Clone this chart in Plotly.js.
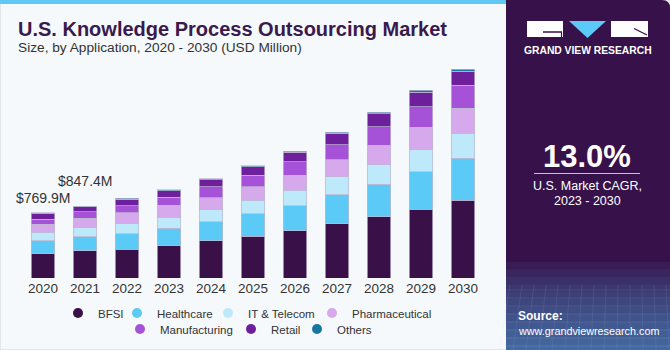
<!DOCTYPE html>
<html>
<head>
<meta charset="utf-8">
<script src="https://cdn.plot.ly/plotly-3.0.1.min.js"></script>
<style>
  html, body { margin: 0; padding: 0; background: #ffffff; }
  #chart { width: 670px; height: 350px; }
</style>
</head>
<body>
<div id="chart"></div>
<script>
// ---- Data (USD Million) ----
const years = ['2020','2021','2022','2023','2024','2025','2026','2027','2028','2029','2030'];
const bfsi          = [285, 322, 337, 378, 437, 491, 558, 641, 723, 814, 920];
const healthcare    = [152, 164, 185, 208, 228, 268, 295, 342, 381, 440, 491];
const itTelecom     = [102, 107, 118, 130, 142, 157, 181, 209, 232, 260, 300];
const pharmaceutical= [94, 111, 130, 142, 138, 158, 177, 204, 228, 263, 290];
const manufacturing = [62, 75, 83, 94, 133, 137, 162, 177, 221, 244, 271];
const retail        = [66.9, 60.4, 79, 79, 83, 99, 110, 133, 153, 173, 170];
const others        = [8, 8, 8, 12, 12, 12, 12, 12, 20, 24, 19];
const seriesNames   = ['BFSI','Healthcare','IT & Telecom','Pharmaceutical','Manufacturing','Retail','Others'];
const labeledYears  = ['2020','2021'];

// ---- Styles ----
const colors = ['#3a1049','#5ccaf6','#bee9fa','#d6a9ed','#a552d8','#6e1f9c','#16789f'];
const legendWidths = [14, 46, 59, 80, 66, 21, 35];   // per-entry legend widths (px)
const labelShifts = [5, 15];                           // vertical offsets of total labels (px)
const W = 670, H = 350, ML = 22, MR = 186, MT = 60, MB = 72;
const PW = W - ML - MR, PH = H - MT - MB;
const X = px => (px - ML) / PW;
const Y = py => (H - MB - py) / PH;
const FONT = 'Liberation Sans, Arial, sans-serif';

const seriesData = [bfsi, healthcare, itTelecom, pharmaceutical, manufacturing, retail, others];
const traces = [];
seriesData.forEach((vals, i) => {
  traces.push({
    type: 'bar', x: years, y: vals, name: seriesNames[i],
    marker: { color: colors[i], line: { color: 'rgba(190,185,210,0.9)', width: 0.8 } },
    showlegend: false, hoverinfo: 'x+y+name'
  });
});
// legend entries (circle markers) on a hidden overlay axis pair
seriesData.forEach((vals, i) => {
  traces.push({
    type: 'scatter', mode: 'markers', x: [null], y: [null], name: seriesNames[i],
    xaxis: 'x2', yaxis: 'y2', legendwidth: legendWidths[i],
    marker: { color: colors[i], size: 10, symbol: 'circle' },
    legend: i < 4 ? 'legend' : 'legend2', showlegend: true, hoverinfo: 'skip'
  });
});

const totals = years.map((_, j) => seriesData.reduce((s, arr) => s + arr[j], 0));
const annotations = [];
labeledYears.forEach((yr, k) => {
  const j = years.indexOf(yr);
  annotations.push({
    x: j, y: totals[j], xref: 'x', yref: 'y', text: '$' + totals[j].toFixed(1) + 'M',
    showarrow: false, yanchor: 'bottom', yshift: labelShifts[k],
    font: { family: FONT, size: 14, color: '#333333' }
  });
});
// Title / subtitle
annotations.push({ xref: 'paper', yref: 'paper', x: X(16), y: Y(29), xanchor: 'left', yanchor: 'middle',
  text: '<b>U.S. Knowledge Process Outsourcing Market</b>', showarrow: false,
  font: { family: FONT, size: 20, color: '#3a1a4c' } });
annotations.push({ xref: 'paper', yref: 'paper', x: X(16), y: Y(47), xanchor: 'left', yanchor: 'middle',
  text: 'Size, by Application, 2020 - 2030 (USD Million)', showarrow: false,
  font: { family: FONT, size: 13.7, color: '#333333' } });
// Right panel texts
annotations.push({ xref: 'paper', yref: 'paper', x: X(587.5), y: Y(50), xanchor: 'center', yanchor: 'middle',
  text: '<b>GRAND VIEW RESEARCH</b>', showarrow: false,
  font: { family: FONT, size: 10.3, color: '#ffffff' } });
annotations.push({ xref: 'paper', yref: 'paper', x: X(587), y: Y(156), xanchor: 'center', yanchor: 'middle',
  text: '<b>13.0%</b>', showarrow: false,
  font: { family: FONT, size: 31, color: '#ffffff' } });
annotations.push({ xref: 'paper', yref: 'paper', x: X(587), y: Y(186), xanchor: 'center', yanchor: 'middle',
  text: 'U.S. Market CAGR,', showarrow: false,
  font: { family: FONT, size: 12.5, color: '#ffffff' } });
annotations.push({ xref: 'paper', yref: 'paper', x: X(587), y: Y(201), xanchor: 'center', yanchor: 'middle',
  text: '2023 - 2030', showarrow: false,
  font: { family: FONT, size: 12.5, color: '#ffffff' } });
annotations.push({ xref: 'paper', yref: 'paper', x: X(516), y: Y(316), xanchor: 'left', yanchor: 'middle',
  text: '<b>Source:</b>', showarrow: false,
  font: { family: FONT, size: 12, color: '#ffffff' } });
annotations.push({ xref: 'paper', yref: 'paper', x: X(516), y: Y(331), xanchor: 'left', yanchor: 'middle',
  text: 'www.grandviewresearch.com', showarrow: false,
  font: { family: FONT, size: 10.8, color: '#ffffff' } });

const shapes = [];
const rectPx = (x0, y0, x1, y1, fill, extra) => Object.assign({
  type: 'rect', xref: 'paper', yref: 'paper', x0: X(x0), x1: X(x1), y0: Y(y1), y1: Y(y0),
  fillcolor: fill, line: { width: 0 }, layer: 'below'
}, extra || {});
// frame
shapes.push(rectPx(0, 0, 670, 350, '#f5f9fc', { line: { color: '#d0d4da', width: 1 } }));
shapes.push(rectPx(0, 0, 506, 4, '#5fc9f3'));
// right panel with rounded top-right corner
const r = 8;
shapes.push({
  type: 'path', xref: 'paper', yref: 'paper', layer: 'below',
  path: `M ${X(506)},${Y(0)} L ${X(670 - r)},${Y(0)} Q ${X(670)},${Y(0)} ${X(670)},${Y(r)} L ${X(670)},${Y(350)} L ${X(506)},${Y(350)} Z`,
  fillcolor: '#37124a', line: { width: 0 }
});
// bottom gradient of panel
for (let i = 0; i < 12; i++) {
  shapes.push(rectPx(506, 262 + i * 7.5, 670, 350, 'rgba(90,170,230,0.07)'));
}
// faint grid lines in panel bottom
for (let i = 0; i < 8; i++) {
  shapes.push({ type: 'line', xref: 'paper', yref: 'paper', x0: X(506), x1: X(670), y0: Y(290 + i * 8), y1: Y(290 + i * 8),
    line: { color: 'rgba(200,220,255,0.12)', width: 1 }, layer: 'below' });
}
for (let i = 0; i < 14; i++) {
  shapes.push({ type: 'line', xref: 'paper', yref: 'paper', x0: X(510 + i * 12), x1: X(500 + i * 13), y0: Y(285), y1: Y(350),
    line: { color: 'rgba(200,220,255,0.10)', width: 1 }, layer: 'below' });
}
// logo
shapes.push(rectPx(527, 21, 563, 37, '#ffffff', { layer: 'above' }));
shapes.push({ type: 'line', xref: 'paper', yref: 'paper', x0: X(543), x1: X(562), y0: Y(32), y1: Y(32),
  line: { color: '#37124a', width: 1.5 }, layer: 'above' });
shapes.push({ type: 'line', xref: 'paper', yref: 'paper', x0: X(561.5), x1: X(561.5), y0: Y(32), y1: Y(37),
  line: { color: '#37124a', width: 1.2 }, layer: 'above' });
shapes.push({ type: 'path', xref: 'paper', yref: 'paper', layer: 'above',
  path: `M ${X(569)},${Y(21)} L ${X(606)},${Y(21)} L ${X(587.5)},${Y(38)} Z`,
  fillcolor: '#5ccaf6', line: { width: 0 } });
shapes.push(rectPx(611, 21, 648, 37, '#ffffff', { layer: 'above' }));
shapes.push({ type: 'line', xref: 'paper', yref: 'paper', x0: X(634), x1: X(647), y0: Y(28.5), y1: Y(35),
  line: { color: '#37124a', width: 1.3 }, layer: 'above' });
// divider under CAGR
shapes.push({ type: 'line', xref: 'paper', yref: 'paper', x0: X(534), x1: X(640), y0: Y(173.5), y1: Y(173.5),
  line: { color: '#c9bfd2', width: 1 }, layer: 'above' });

const legendCommon = { orientation: 'h', xref: 'paper', yref: 'paper', xanchor: 'left', yanchor: 'middle',
  traceorder: 'normal', bgcolor: 'rgba(0,0,0,0)', font: { family: FONT, size: 11.5, color: '#333333' },
  itemclick: false, itemdoubleclick: false };

const layout = {
  width: W, height: H,
  margin: { l: ML, r: MR, t: MT, b: MB, pad: 0, autoexpand: false },
  paper_bgcolor: '#ffffff', plot_bgcolor: 'rgba(0,0,0,0)',
  barmode: 'stack', bargap: 0.43,
  font: { family: FONT, color: '#333333' },
  xaxis: { type: 'category', categoryorder: 'array', categoryarray: years, range: [-0.5, years.length - 0.5],
           showgrid: false, zeroline: false, showline: false, ticks: '', ticklabelstandoff: 0,
           automargin: false,
           tickfont: { family: FONT, size: 13.5, color: '#333333' }, fixedrange: true },
  yaxis: { visible: false, range: [0, PH * 11.8], fixedrange: true, automargin: false },
  xaxis2: { visible: false, overlaying: 'x', range: [0, 1], fixedrange: true },
  yaxis2: { visible: false, overlaying: 'y', range: [0, 1], fixedrange: true },
  legend: Object.assign({ x: X(58), y: Y(313) }, legendCommon),
  legend2: Object.assign({ x: X(120), y: Y(329) }, legendCommon),
  annotations: annotations,
  shapes: shapes
};

Plotly.newPlot('chart', traces, layout, { displayModeBar: false, staticPlot: true });
</script>
</body>
</html>
